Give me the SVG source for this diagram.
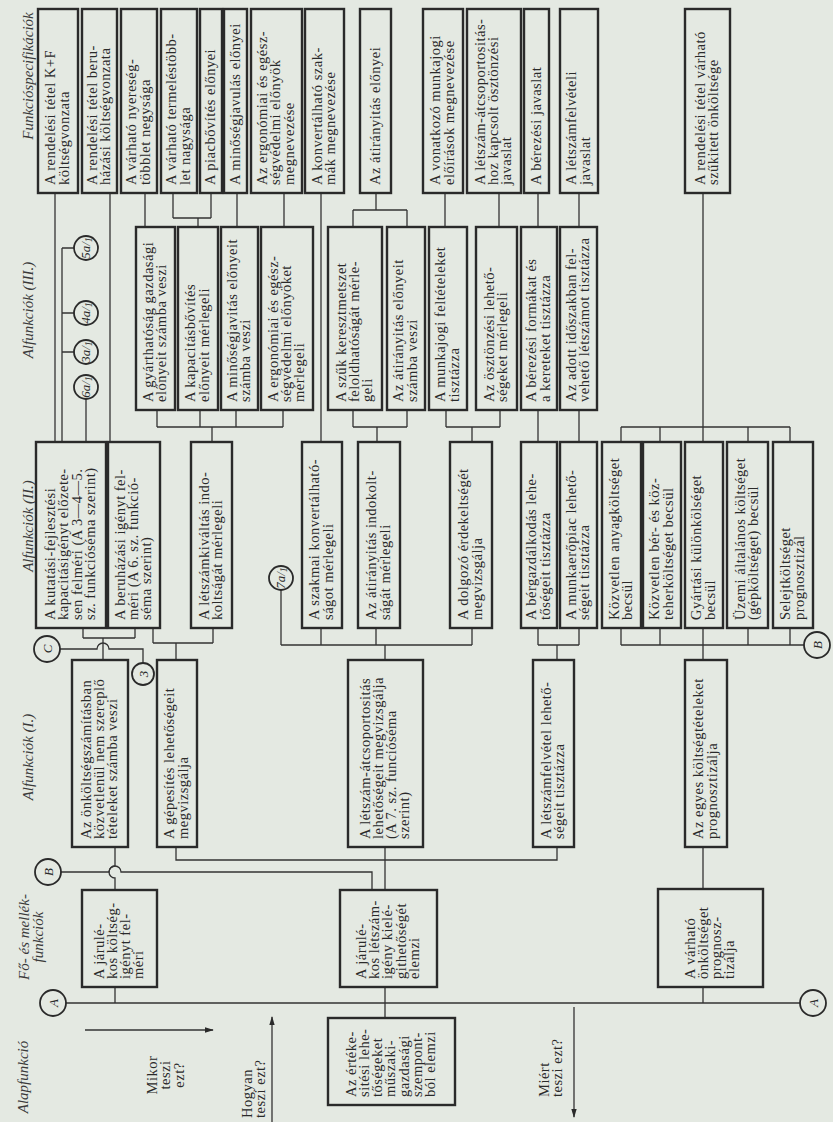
<svg xmlns="http://www.w3.org/2000/svg" width="833" height="1122" viewBox="0 0 833 1122">
<defs>
<style>
.bg{fill:#e4e9e2}
.box{fill:none;stroke:#2a2a2a;stroke-width:2.4}
.ln{fill:none;stroke:#333;stroke-width:1.3}
.cir{fill:#e4e9e2;stroke:#2a2a2a;stroke-width:1.8}
.t{font-family:"Liberation Serif",serif;font-size:14.5px;letter-spacing:0.5px;fill:#2a2a2a}
.h{font-family:"Liberation Serif",serif;font-size:15px;font-style:italic;fill:#3a3a3a}
.c{font-family:"Liberation Serif",serif;font-size:13px;font-style:italic;fill:#2a2a2a;text-anchor:middle}
.cs{font-family:"Liberation Serif",serif;font-size:10px;font-style:italic;fill:#2a2a2a;text-anchor:middle}
</style>
<marker id="ah" viewBox="0 0 10 10" refX="9" refY="5" markerWidth="9" markerHeight="9" orient="auto" markerUnits="userSpaceOnUse">
<path d="M0,2 L10,5 L0,8 z" fill="#2a2a2a"/>
</marker>
</defs>
<rect class="bg" x="0" y="0" width="833" height="1122"/>

<g id="headers">
<text class="h" text-anchor="middle" transform="translate(33,76) rotate(-90)">Funkcióspecifikációk</text>
<text class="h" text-anchor="middle" transform="translate(33,310) rotate(-90)">Alfunkciók (III.)</text>
<text class="h" text-anchor="middle" transform="translate(33,526) rotate(-90)">Alfunkciók (II.)</text>
<text class="h" text-anchor="middle" transform="translate(33,757) rotate(-90)">Alfunkciók (I.)</text>
<text class="h" text-anchor="middle" transform="translate(29,937) rotate(-90)"><tspan x="0" y="0">Fő- és mellék-</tspan><tspan x="0" y="14">funkciók</tspan></text>
<text class="h" text-anchor="middle" transform="translate(28,1077) rotate(-90)">Alapfunkció</text>
</g>

<g id="connectors">
<path class="ln" d="M55 193 V442"/>
<path class="ln" d="M110 193 V442"/>
<path class="ln" d="M62 248 V442 M62 248 H74 M62 313 H74 M62 352 H74"/>
<path class="ln" d="M86 398 V442"/>
<path class="ln" d="M145 193 V227"/>
<path class="ln" d="M173 193 V218 M211 193 V218 M173 218 H211 M198 218 V227"/>
<path class="ln" d="M237 193 V227"/>
<path class="ln" d="M284 193 V227"/>
<path class="ln" d="M321 193 V442"/>
<path class="ln" d="M376 193 V210 M353 210 H407 M353 210 V227 M407 210 V227"/>
<path class="ln" d="M445 193 V227"/>
<path class="ln" d="M499 193 V227"/>
<path class="ln" d="M538 193 V227"/>
<path class="ln" d="M579 193 V227"/>
<path class="ln" d="M703 193 V427 M621 427 H790 M621 427 V442 M660 427 V442 M703 427 V442 M748 427 V442 M790 427 V442"/>
<path class="ln" d="M157 410 V427 M200 410 V427 M236 410 V427 M283 410 V427 M157 427 H283 M212 427 V442"/>
<path class="ln" d="M353 410 V427 M407 410 V427 M353 427 H407 M377 427 V442"/>
<path class="ln" d="M446 410 V427 M500 410 V427 M446 427 H500 M472 427 V442"/>
<path class="ln" d="M538 410 V442"/>
<path class="ln" d="M579 410 V442"/>
<path class="ln" d="M83 628 V638 M135 628 V638 M83 638 H135 M103 638 V660"/>
<path class="ln" d="M60 649 H97 A6 6 0 0 1 109 649 H143 V663"/>
<path class="ln" d="M153 628 V643 M213 628 V643 M153 643 H213 M176 643 V660"/>
<path class="ln" d="M281 590 V645 M281 645 H472 M321 628 V645 M376 628 V645 M472 628 V645 M385 645 V660"/>
<path class="ln" d="M538 628 V645 M579 628 V645 M538 645 H579 M557 645 V660"/>
<path class="ln" d="M621 628 V645 M660 628 V645 M703 628 V660 M748 628 V645 M790 628 V645 M621 645 H804"/>
<path class="ln" d="M115 847 V866 A6 6 0 0 0 115 878 V890"/>
<path class="ln" d="M61 872 H109 A6 6 0 0 1 121 872 H372 V890"/>
<path class="ln" d="M176 847 V860 H557 V847"/>
<path class="ln" d="M385 847 V890"/>
<path class="ln" d="M703 847 V889"/>
<path class="ln" d="M115 987 V1003 M385 987 V1018 M703 987 V1003 M66 1003 H800"/>
<path class="ln" d="M85 1030 H213" marker-end="url(#ah)"/>
<path class="ln" d="M272 1122 V1017" marker-end="url(#ah)"/>
<path class="ln" d="M574 1007 V1117" marker-end="url(#ah)"/>
</g>

<g id="question-labels">
<text class="t" text-anchor="middle" transform="translate(157,1075) rotate(-90)"><tspan x="0" y="0">Mikor</tspan><tspan x="0" y="13.3">teszi</tspan><tspan x="0" y="26.6">ezt?</tspan></text>
<text class="t" transform="translate(252,1118) rotate(-90)"><tspan x="0" y="0">Hogyan</tspan><tspan x="0" y="13.3">teszi ezt?</tspan></text>
<text class="t" transform="translate(549,1097) rotate(-90)"><tspan x="0" y="0">Miért</tspan><tspan x="0" y="13.3">teszi ezt?</tspan></text>
</g>

<g id="circles">
<g id="c-5a1"><circle class="cir" cx="86" cy="248" r="12"/><text class="c" transform="translate(90,248) rotate(-90)">5a/<tspan class="cs" dy="2">1</tspan></text></g>
<g id="c-4a1"><circle class="cir" cx="86" cy="313" r="12"/><text class="c" transform="translate(90,313) rotate(-90)">4a/<tspan class="cs" dy="2">1</tspan></text></g>
<g id="c-3a1"><circle class="cir" cx="86" cy="352" r="12"/><text class="c" transform="translate(90,352) rotate(-90)">3a/<tspan class="cs" dy="2">1</tspan></text></g>
<g id="c-6a1"><circle class="cir" cx="86" cy="387" r="12"/><text class="c" transform="translate(90,387) rotate(-90)">6a/<tspan class="cs" dy="2">1</tspan></text></g>
<g id="c-7a1"><circle class="cir" cx="281" cy="578" r="12"/><text class="c" transform="translate(285,578) rotate(-90)">7a/<tspan class="cs" dy="2">1</tspan></text></g>
<g id="c-C"><circle class="cir" cx="47" cy="649" r="13"/><text class="c" font-size="15" transform="translate(52,649) rotate(-90)">C</text></g>
<g id="c-3"><circle class="cir" cx="143" cy="674" r="11"/><text class="c" transform="translate(148,674) rotate(-90)">3</text></g>
<g id="c-B-left"><circle class="cir" cx="48" cy="872" r="13"/><text class="c" font-size="15" transform="translate(53,872) rotate(-90)">B</text></g>
<g id="c-B-right"><circle class="cir" cx="817" cy="645" r="13"/><text class="c" font-size="15" transform="translate(822,645) rotate(-90)">B</text></g>
<g id="c-A-left"><circle class="cir" cx="53" cy="1003" r="13"/><text class="c" font-size="15" transform="translate(58,1003) rotate(-90)">A</text></g>
<g id="c-A-right"><circle class="cir" cx="813" cy="1003" r="13"/><text class="c" font-size="15" transform="translate(818,1003) rotate(-90)">A</text></g>
</g>

<g id="f1"><rect class="box" x="38" y="9" width="40" height="184"/><text class="t" transform="translate(55.3,185) rotate(-90)"><tspan x="0" y="0">A rendelési tétel K+F</tspan><tspan x="0" y="13.3">költségvonzata</tspan></text></g>
<g id="f2"><rect class="box" x="82" y="9" width="35" height="184"/><text class="t" transform="translate(96.8,185) rotate(-90)"><tspan x="0" y="0">A rendelési tétel beru-</tspan><tspan x="0" y="13.3">házási költségvonzata</tspan></text></g>
<g id="f3"><rect class="box" x="121" y="9" width="36" height="184"/><text class="t" transform="translate(136.3,185) rotate(-90)"><tspan x="0" y="0">A várható nyereség-</tspan><tspan x="0" y="13.3">többlet negysága</tspan></text></g>
<g id="f4"><rect class="box" x="161" y="9" width="36" height="184"/><text class="t" transform="translate(176.3,185) rotate(-90)"><tspan x="0" y="0">A várható termeléstöbb-</tspan><tspan x="0" y="13.3">let nagysága</tspan></text></g>
<g id="f5"><rect class="box" x="200" y="9" width="22" height="184"/><text class="t" transform="translate(215,185) rotate(-90)">A piacbővítés előnyei</text></g>
<g id="f6"><rect class="box" x="224" y="9" width="23" height="184"/><text class="t" transform="translate(239.5,185) rotate(-90)">A minőségjavulás előnyei</text></g>
<g id="f7"><rect class="box" x="251" y="9" width="51" height="184"/><text class="t" transform="translate(267.2,185) rotate(-90)"><tspan x="0" y="0">Az ergonómiai és egész-</tspan><tspan x="0" y="13.3">ségvédelmi előnyök</tspan><tspan x="0" y="26.6">megnevezése</tspan></text></g>
<g id="f8"><rect class="box" x="305" y="9" width="39" height="184"/><text class="t" transform="translate(321.8,185) rotate(-90)"><tspan x="0" y="0">A konvertálható szak-</tspan><tspan x="0" y="13.3">mák megnevezése</tspan></text></g>
<g id="f9"><rect class="box" x="360" y="9" width="31" height="184"/><text class="t" transform="translate(379.5,185) rotate(-90)">Az átirányitás előnyei</text></g>
<g id="f10"><rect class="box" x="423" y="9" width="40" height="184"/><text class="t" transform="translate(440.3,185) rotate(-90)"><tspan x="0" y="0">A vonatkozó munkajogi</tspan><tspan x="0" y="13.3">előírások megnevezése</tspan></text></g>
<g id="f11"><rect class="box" x="467" y="9" width="54" height="184"/><text class="t" transform="translate(484.7,185) rotate(-90)"><tspan x="0" y="0">A létszám-átcsoportositás-</tspan><tspan x="0" y="13.3">hoz kapcsolt ösztönzési</tspan><tspan x="0" y="26.6">javaslat</tspan></text></g>
<g id="f12"><rect class="box" x="524" y="9" width="25" height="184"/><text class="t" transform="translate(540.5,185) rotate(-90)">A bérezési javaslat</text></g>
<g id="f13"><rect class="box" x="560" y="9" width="38" height="184"/><text class="t" transform="translate(576.3,185) rotate(-90)"><tspan x="0" y="0">A létszámfelvételi</tspan><tspan x="0" y="13.3">javaslat</tspan></text></g>
<g id="f14"><rect class="box" x="685" y="9" width="45" height="184"/><text class="t" transform="translate(704.8,185) rotate(-90)"><tspan x="0" y="0">A rendelési tétel várható</tspan><tspan x="0" y="13.3">szűkitett önköltsége</tspan></text></g>

<g id="a3-1"><rect class="box" x="136" y="227" width="39" height="183"/><text class="t" transform="translate(152.8,402) rotate(-90)"><tspan x="0" y="0">A gyárthatóság gazdasági</tspan><tspan x="0" y="13.3">előnyeit számba veszi</tspan></text></g>
<g id="a3-2"><rect class="box" x="178" y="227" width="40" height="183"/><text class="t" transform="translate(195.3,402) rotate(-90)"><tspan x="0" y="0">A kapacitásbővítés</tspan><tspan x="0" y="13.3">előnyeit mérlegeli</tspan></text></g>
<g id="a3-3"><rect class="box" x="221" y="227" width="37" height="183"/><text class="t" transform="translate(236.8,402) rotate(-90)"><tspan x="0" y="0">A minőségjavitás előnyeit</tspan><tspan x="0" y="13.3">számba veszi</tspan></text></g>
<g id="a3-4"><rect class="box" x="261" y="227" width="52" height="183"/><text class="t" transform="translate(277.7,402) rotate(-90)"><tspan x="0" y="0">A ergonómiai és egész-</tspan><tspan x="0" y="13.3">ségvédelmi előnyöket</tspan><tspan x="0" y="26.6">mérlegeli</tspan></text></g>
<g id="a3-5"><rect class="box" x="328" y="227" width="54" height="183"/><text class="t" transform="translate(345.7,402) rotate(-90)"><tspan x="0" y="0">A szűk keresztmetszet</tspan><tspan x="0" y="13.3">feloldhatóságát mérle-</tspan><tspan x="0" y="26.6">geli</tspan></text></g>
<g id="a3-6"><rect class="box" x="387" y="227" width="38" height="183"/><text class="t" transform="translate(403.3,402) rotate(-90)"><tspan x="0" y="0">Az átirányitás előnyeit</tspan><tspan x="0" y="13.3">számba veszi</tspan></text></g>
<g id="a3-7"><rect class="box" x="429" y="227" width="38" height="183"/><text class="t" transform="translate(445.3,402) rotate(-90)"><tspan x="0" y="0">A munkajogi feltételeket</tspan><tspan x="0" y="13.3">tisztázza</tspan></text></g>
<g id="a3-8"><rect class="box" x="476" y="227" width="41" height="183"/><text class="t" transform="translate(493.8,402) rotate(-90)"><tspan x="0" y="0">Az ösztönzési lehető-</tspan><tspan x="0" y="13.3">ségeket mérlegeli</tspan></text></g>
<g id="a3-9"><rect class="box" x="521" y="227" width="36" height="183"/><text class="t" transform="translate(536.3,402) rotate(-90)"><tspan x="0" y="0">A bérezési formákat és</tspan><tspan x="0" y="13.3">a kereteket tisztázza</tspan></text></g>
<g id="a3-10"><rect class="box" x="560" y="227" width="37" height="183"/><text class="t" transform="translate(575.8,402) rotate(-90)"><tspan x="0" y="0">Az adott időszakban fel-</tspan><tspan x="0" y="13.3">vehető létszámot tisztázza</tspan></text></g>

<g id="a2-1"><rect class="box" x="36" y="442" width="70" height="186"/><text class="t" transform="translate(55,620) rotate(-90)"><tspan x="0" y="0">A kutatási-fejlesztési</tspan><tspan x="0" y="13.3">kapacitásigényt előzete-</tspan><tspan x="0" y="26.6">sen felméri (A 3—4—5.</tspan><tspan x="0" y="39.9">sz. funkcióséma szerint)</tspan></text></g>
<g id="a2-2"><rect class="box" x="108" y="442" width="52" height="186"/><text class="t" transform="translate(124.5,620) rotate(-90)"><tspan x="0" y="0">A beruházási igényt fel-</tspan><tspan x="0" y="13.3">méri (A 6. sz. funkció-</tspan><tspan x="0" y="26.6">séma szerint)</tspan></text></g>
<g id="a2-3"><rect class="box" x="191" y="442" width="41" height="186"/><text class="t" transform="translate(208.8,620) rotate(-90)"><tspan x="0" y="0">A létszámkiváltás indo-</tspan><tspan x="0" y="13.3">koltságát mérlegeli</tspan></text></g>
<g id="a2-4"><rect class="box" x="302" y="442" width="40" height="186"/><text class="t" transform="translate(319.3,620) rotate(-90)"><tspan x="0" y="0">A szakmai konvertálható-</tspan><tspan x="0" y="13.3">ságot mérlegeli</tspan></text></g>
<g id="a2-5"><rect class="box" x="358" y="442" width="42" height="186"/><text class="t" transform="translate(376.3,620) rotate(-90)"><tspan x="0" y="0">Az átirányitás indokolt-</tspan><tspan x="0" y="13.3">ságát mérlegeli</tspan></text></g>
<g id="a2-6"><rect class="box" x="450" y="442" width="42" height="186"/><text class="t" transform="translate(468.3,620) rotate(-90)"><tspan x="0" y="0">A dolgozó érdekeltségét</tspan><tspan x="0" y="13.3">megvizsgálja</tspan></text></g>
<g id="a2-7"><rect class="box" x="521" y="442" width="36" height="186"/><text class="t" transform="translate(536.3,620) rotate(-90)"><tspan x="0" y="0">A bérgazdálkodás lehe-</tspan><tspan x="0" y="13.3">tőségeit tisztázza</tspan></text></g>
<g id="a2-8"><rect class="box" x="560" y="442" width="37" height="186"/><text class="t" transform="translate(575.8,620) rotate(-90)"><tspan x="0" y="0">A munkaerőpiac lehető-</tspan><tspan x="0" y="13.3">ségeit tisztázza</tspan></text></g>
<g id="a2-9"><rect class="box" x="602" y="442" width="39" height="186"/><text class="t" transform="translate(618.8,620) rotate(-90)"><tspan x="0" y="0">Közvetlen anyagköltséget</tspan><tspan x="0" y="13.3">becsül</tspan></text></g>
<g id="a2-10"><rect class="box" x="643" y="442" width="38" height="186"/><text class="t" transform="translate(659.3,620) rotate(-90)"><tspan x="0" y="0">Közvetlen bér- és köz-</tspan><tspan x="0" y="13.3">teherköltséget becsül</tspan></text></g>
<g id="a2-11"><rect class="box" x="685" y="442" width="38" height="186"/><text class="t" transform="translate(701.3,620) rotate(-90)"><tspan x="0" y="0">Gyártási különkölséget</tspan><tspan x="0" y="13.3">becsül</tspan></text></g>
<g id="a2-12"><rect class="box" x="727" y="442" width="41" height="186"/><text class="t" transform="translate(744.8,620) rotate(-90)"><tspan x="0" y="0">Üzemi általános költséget</tspan><tspan x="0" y="13.3">(gépköltséget) becsül</tspan></text></g>
<g id="a2-13"><rect class="box" x="773" y="442" width="40" height="186"/><text class="t" transform="translate(790.3,620) rotate(-90)"><tspan x="0" y="0">Selejtköltséget</tspan><tspan x="0" y="13.3">prognosztizál</tspan></text></g>

<g id="a1-1"><rect class="box" x="72" y="660" width="56" height="187"/><text class="t" transform="translate(90.7,839) rotate(-90)"><tspan x="0" y="0">Az önköltségszámításban</tspan><tspan x="0" y="13.3">közvetlenül nem szereplő</tspan><tspan x="0" y="26.6">tételeket számba veszi</tspan></text></g>
<g id="a1-2"><rect class="box" x="157" y="660" width="40" height="187"/><text class="t" transform="translate(174.3,839) rotate(-90)"><tspan x="0" y="0">A gépesítés lehetőségeit</tspan><tspan x="0" y="13.3">megvizsgálja</tspan></text></g>
<g id="a1-3"><rect class="box" x="348" y="660" width="75" height="187"/><text class="t" transform="translate(369.5,839) rotate(-90)"><tspan x="0" y="0">A létszám-átcsoportositás</tspan><tspan x="0" y="13.3">lehetőségeit megvizsgálja</tspan><tspan x="0" y="26.6">(A 7. sz. funcióséma</tspan><tspan x="0" y="39.9">szerint)</tspan></text></g>
<g id="a1-4"><rect class="box" x="533" y="660" width="41" height="187"/><text class="t" transform="translate(550.8,839) rotate(-90)"><tspan x="0" y="0">A létszámfelvétel lehető-</tspan><tspan x="0" y="13.3">ségeit tisztázza</tspan></text></g>
<g id="a1-5"><rect class="box" x="685" y="660" width="42" height="187"/><text class="t" transform="translate(703.3,839) rotate(-90)"><tspan x="0" y="0">Az egyes költségtételeket</tspan><tspan x="0" y="13.3">prognosztizálja</tspan></text></g>

<g id="m1"><rect class="box" x="82" y="890" width="75" height="97"/><text class="t" transform="translate(103.5,979) rotate(-90)"><tspan x="0" y="0">A járulé-</tspan><tspan x="0" y="13.3">kos költség-</tspan><tspan x="0" y="26.6">igényt fel-</tspan><tspan x="0" y="39.9">méri</tspan></text></g>
<g id="m2"><rect class="box" x="340" y="890" width="97" height="97"/><text class="t" transform="translate(365.9,979) rotate(-90)"><tspan x="0" y="0">A járulé-</tspan><tspan x="0" y="13.3">kos létszám-</tspan><tspan x="0" y="26.6">igény kielé-</tspan><tspan x="0" y="39.9">githetőségét</tspan><tspan x="0" y="53.2">elemzi</tspan></text></g>
<g id="m3"><rect class="box" x="658" y="889" width="105" height="98"/><text class="t" transform="translate(694.5,979) rotate(-90)"><tspan x="0" y="0">A várható</tspan><tspan x="0" y="13.3">önköltséget</tspan><tspan x="0" y="26.6">prognosz-</tspan><tspan x="0" y="39.9">tizálja</tspan></text></g>

<g id="base"><rect class="box" x="328" y="1018" width="127" height="87"/><text class="t" transform="translate(355.6,1097) rotate(-90)"><tspan x="0" y="0">Az értéke-</tspan><tspan x="0" y="13.3">sitési lehe-</tspan><tspan x="0" y="26.6">tőségeket</tspan><tspan x="0" y="39.9">műszaki-</tspan><tspan x="0" y="53.2">gazdasági</tspan><tspan x="0" y="66.5">szempont-</tspan><tspan x="0" y="79.8">ból elemzi</tspan></text></g>
</svg>
